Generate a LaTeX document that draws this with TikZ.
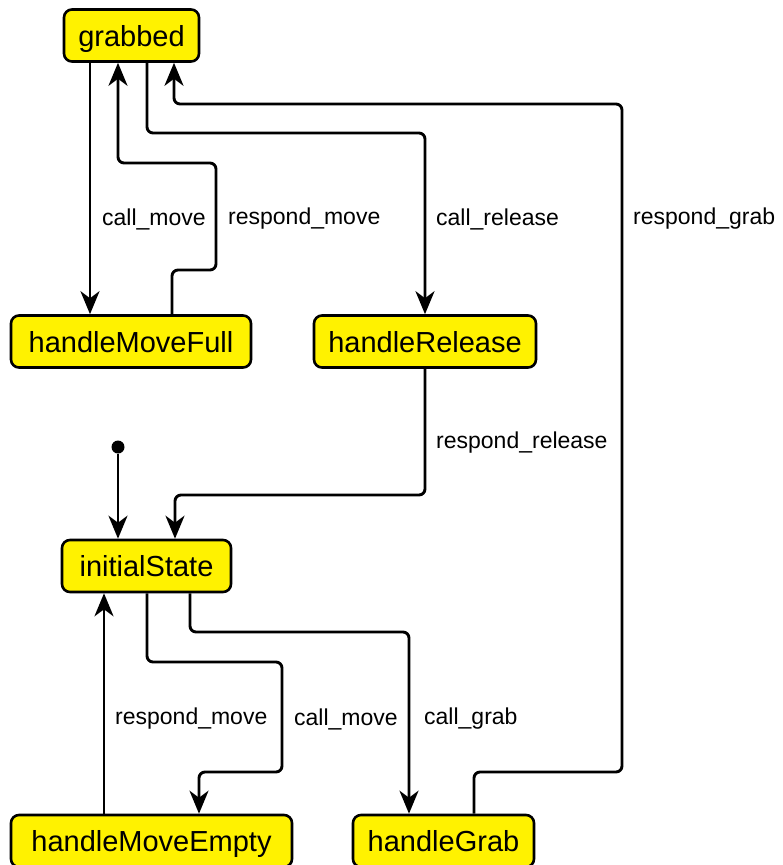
\documentclass[tikz,border=0pt]{standalone}
\usepackage{fontspec}
\setmainfont{Liberation Sans}
\usetikzlibrary{arrows.meta}
\begin{document}
\begin{tikzpicture}[x=1pt,y=-1pt,
  state/.style={draw=black, line width=2.6pt, fill=yellow, rounded corners=8pt,
    minimum height=52pt, inner sep=2pt, text height=22.5pt, text depth=1.5pt,
    font=\fontsize{29}{32}\selectfont},
  edge/.style={line width=2.9pt, rounded corners=6pt,
    -{Stealth[length=23pt,width=19pt,inset=7pt]}},
  lbl/.style={anchor=west, inner sep=0pt, font=\fontsize{23}{26}\selectfont}]
\useasboundingbox (0,0) rectangle (782,865);

\node[state, minimum width=135pt] (grabbed) at (131.5,35.5) {grabbed};
\node[state, minimum width=240pt] (hmf) at (131,341.5) {handleMoveFull};
\node[state, minimum width=222pt] (hrel) at (425,341.5) {handleRelease};
\node[state, minimum width=169pt] (init) at (146.5,566) {initialState};
\node[state, minimum width=281pt] (hme) at (151.5,841) {handleMoveEmpty};
\node[state, minimum width=181pt] (hgrab) at (443.5,841) {handleGrab};
\node[circle, fill=black, inner sep=0pt, minimum size=13pt] (start) at (118,447) {};

% grabbed -> handleMoveFull
\draw[edge] (grabbed.south -| 90,0) -- (hmf.north -| 90,0);
% handleMoveFull -> grabbed
\draw[edge] (hmf.north -| 172,0) -- (172,270) -- (216,270) -- (216,163) -- (118,163) -- (grabbed.south -| 118,0);
% grabbed -> handleRelease
\draw[edge] (grabbed.south -| 147,0) -- (147,133) -- (425,133) -- (hrel.north);
% handleGrab -> grabbed
\draw[edge] (hgrab.north -| 474,0) -- (474,772) -- (622,772) -- (622,104) -- (174,104) -- (grabbed.south -| 174,0);
% handleRelease -> initialState
\draw[edge] (hrel.south) -- (425,495) -- (175,495) -- (init.north -| 175,0);
% start -> initialState
\draw[edge] (start) -- (init.north -| 118,0);
% initialState -> handleMoveEmpty
\draw[edge] (init.south -| 147,0) -- (147,662) -- (282,662) -- (282,772) -- (199,772) -- (hme.north -| 199,0);
% handleMoveEmpty -> initialState
\draw[edge] (hme.north -| 104,0) -- (init.south -| 104,0);
% initialState -> handleGrab
\draw[edge] (init.south -| 190,0) -- (190,632) -- (409,632) -- (hgrab.north -| 409,0);

\node[lbl] (l1) at (102,219) {call\_move};
\node[lbl] (l2) at (228,219) {respond\_move};
\node[lbl] (l3) at (436,219) {call\_release};
\node[lbl] (l4) at (633,219) {respond\_grab};
\node[lbl] (l5) at (436,443) {respond\_release};
\node[lbl] (l6) at (115,719) {respond\_move};
\node[lbl] (l7) at (294,719) {call\_move};
\node[lbl] (l8) at (424,719) {call\_grab};
\end{tikzpicture}
\end{document}
